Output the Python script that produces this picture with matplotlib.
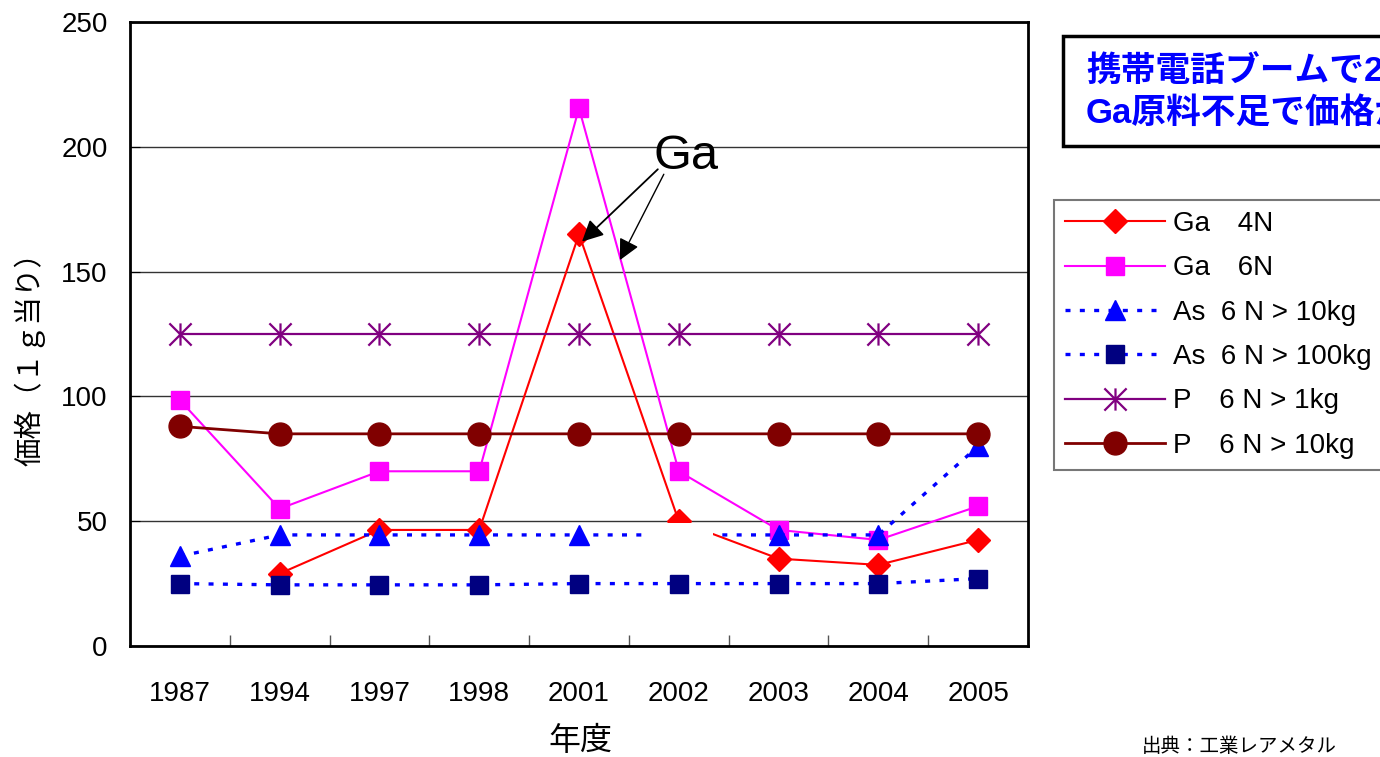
import matplotlib
matplotlib.use("Agg")
import matplotlib.pyplot as plt
from matplotlib.patches import Rectangle
from matplotlib.path import Path

plt.rcParams['font.family'] = ['Liberation Sans', 'Noto Sans CJK JP', 'DejaVu Sans']

years = ['1987', '1994', '1997', '1998', '2001', '2002', '2003', '2004', '2005']
nan = float('nan')
ga_4n = [nan, 29, 46.5, 46.5, 165, 50, 35, 32.5, 42.5]
ga_6n = [98.5, 55, 70, 70, 215.5, 70, 46.5, 42.5, 56]
as_10kg = [36, 44.5, 44.5, 44.5, 44.5, 44.5, 44.5, 44.5, 80]
as_100kg = [25, 24.5, 24.5, 24.5, 25, 25, 25, 25, 27]
p_1kg = [125, 125, 125, 125, 125, 125, 125, 125, 125]
p_10kg = [88, 85, 85, 85, 85, 85, 85, 85, 85]

labels = ['Ga\u30004N', 'Ga\u30006N', 'As  6 N > 10kg', 'As  6 N > 100kg',
          'P\u30006 N > 1kg', 'P\u30006 N > 10kg']

# asterisk: vertical bar plus an X
star = Path([(0, -1), (0, 1), (-1, -1), (1, 1), (-1, 1), (1, -1)],
            [Path.MOVETO, Path.LINETO, Path.MOVETO, Path.LINETO, Path.MOVETO, Path.LINETO])

fig = plt.figure(figsize=(13.8, 7.57), dpi=100)
ax = fig.add_axes([130/1380, 111/757, 898/1380, 624/757])
x = list(range(len(years)))
dots = (0, (1.5, 2.8))

ax.plot(x, ga_4n, color='#FF0000', lw=1.5, marker='D', ms=12.5, label=labels[0])
ax.plot(x, ga_6n, color='#FF00FF', lw=1.5, marker='s', ms=13, label=labels[1])
ax.plot(x, as_10kg, color='#0000FF', lw=2.4, ls=dots, dash_capstyle='butt',
        marker='^', ms=15, mfc='#0000FF', mec='#0000FF', label=labels[2])
ax.plot(x, as_100kg, color='#0000FF', lw=2.4, ls=dots, dash_capstyle='butt',
        marker='s', ms=13, mfc='#000080', mec='#000080', label=labels[3])
ax.plot(x, p_1kg, color='#800080', lw=1.6, marker=star, ms=16, mew=1.6, label=labels[4])
ax.plot(x, p_10kg, color='#800000', lw=2.0, marker='o', ms=16.5, label=labels[5])

# white label patch sitting over the 2002 points
ax.add_patch(Rectangle((4.68, 34), 0.66, 15.4, facecolor='white', edgecolor='none', zorder=5))

ax.set_xlim(-0.5, 8.5)
ax.set_ylim(0, 250)
ax.set_yticks([0, 50, 100, 150, 200, 250])
ax.set_xticks(x)
ax.set_xticklabels(years)
ax.set_xticks([i + 0.5 for i in x[:-1]], minor=True)
ax.tick_params(axis='x', which='major', length=0, pad=25, labelsize=20)
ax.tick_params(axis='x', which='minor', direction='in', length=8, width=1, color='#555555')
ax.tick_params(axis='y', direction='in', length=7, pad=16, labelsize=20)
ax.yaxis.grid(True, color='#333333', lw=1.0)
ax.set_axisbelow(True)
for s in ax.spines.values():
    s.set_linewidth(2.0)
    s.set_color('black')

# arrows pointing at the Ga peaks
ax.text(5.07, 196, 'Ga', fontsize=35, ha='center', va='center')
ax.annotate('', xy=(4.03, 162), xytext=(4.79, 191),
            arrowprops=dict(arrowstyle='-|>', color='black', lw=1.3, mutation_scale=32,
                            shrinkA=0, shrinkB=0))
ax.annotate('', xy=(4.41, 154.6), xytext=(4.85, 189),
            arrowprops=dict(arrowstyle='-|>', color='black', lw=1.0, mutation_scale=32,
                            shrinkA=0, shrinkB=0))

fig.text(30/1380, 1 - 352/757, '価格（１ｇ当り）', rotation=90, fontsize=20.5,
         ha='center', va='center')
fig.text(580/1380, 1 - 742/757, '年度', fontsize=23, ha='center', va='center')
fig.text(1142/1380, 1 - 747/757, '出典：工業レアメタル', fontsize=14, ha='left', va='center')

# callout box on the right
fig.patches.append(Rectangle((1063/1380, 1 - 146/757), 400/1380, 110/757,
                             transform=fig.transFigure, facecolor='white',
                             edgecolor='black', lw=2.5))
fig.text(1086/1380, 1 - 71/757, '携帯電話ブームで2001年に高騰', fontsize=25,
         fontweight='bold', color='#0000FF', ha='left', va='center')
fig.text(1086/1380, 1 - 113/757, 'Ga原料不足で価格が上昇', fontsize=25,
         fontweight='bold', color='#0000FF', ha='left', va='center')

leg = fig.legend(loc='upper left', bbox_to_anchor=(1054/1380, 1 - 200/757),
                 bbox_transform=fig.transFigure, fontsize=20, frameon=True,
                 fancybox=False, edgecolor='#555555', handlelength=3.6,
                 handletextpad=0.3, borderpad=0.4, labelspacing=0.66,
                 borderaxespad=0, numpoints=1)
leg.get_frame().set_linewidth(1.5)

fig.savefig('out.png', dpi=100)
